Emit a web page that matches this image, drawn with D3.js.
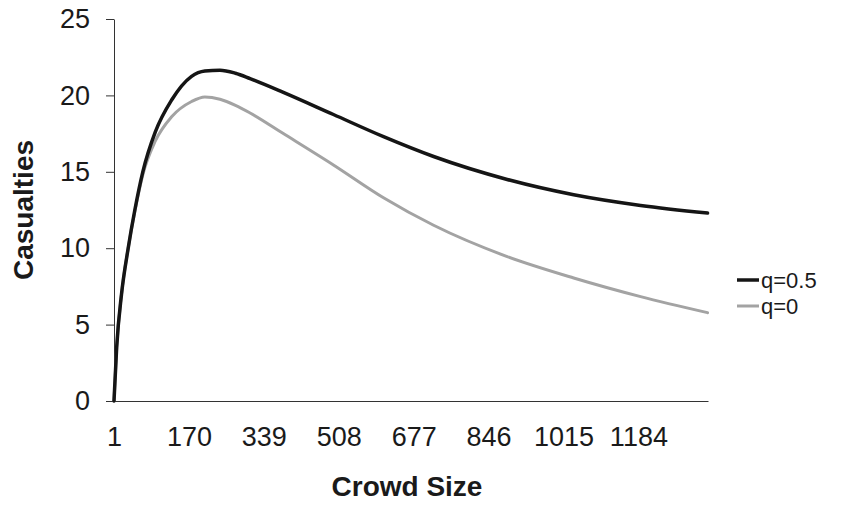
<!DOCTYPE html>
<html>
<head>
<meta charset="utf-8">
<script src="https://cdn.jsdelivr.net/npm/d3@7"></script>
<style>
  html, body { margin: 0; padding: 0; background: #fff; }
  svg { display: block; }
  text { font-family: Arial, "Liberation Sans", sans-serif; fill: #1a1a1a; }
</style>
</head>
<body>
<svg id="chart" width="867" height="508"></svg>
<script>
// ---- data ----
const crowdSize = [1, 7, 18, 33, 48, 66, 94, 131, 176, 206, 240, 275, 308, 383, 496, 609, 722, 888, 1038, 1189, 1340];
const casualtiesHalf = [0, 3.5, 7.0, 10.0, 12.5, 15.0, 17.6, 19.7, 21.25, 21.6, 21.65, 21.45, 21.1, 20.2, 18.75, 17.3, 16.0, 14.5, 13.5, 12.8, 12.3];
const casualtiesZero = [0, 3.5, 7.0, 10.0, 12.4, 14.8, 17.0, 18.6, 19.6, 19.9, 19.75, 19.35, 18.85, 17.5, 15.45, 13.3, 11.5, 9.45, 8.05, 6.83, 5.78];
const xTickLabels = [1, 170, 339, 508, 677, 846, 1015, 1184];
const yTickLabels = [0, 5, 10, 15, 20, 25];
const seriesNames = ["q=0.5", "q=0"];

// ---- layout ----
const svg = d3.select("#chart");
const plotLeft = 114, plotRight = 708, plotTop = 19, plotBottom = 401;

const x = d3.scaleLinear().domain([1, 1341]).range([plotLeft, plotRight]);
const y = d3.scaleLinear().domain([0, 25]).range([plotBottom, plotTop]);

// y axis
const yAxis = svg.append("g")
  .attr("transform", `translate(${plotLeft},0)`)
  .call(d3.axisLeft(y).tickValues(yTickLabels).tickSize(8).tickSizeOuter(0).tickPadding(16));
yAxis.select(".domain").attr("stroke", "#333").attr("stroke-width", 1);
yAxis.selectAll(".tick line").attr("stroke", "#333");
yAxis.selectAll("text").style("font-size", "27px").attr("fill", "#1a1a1a");

// x axis
const xAxis = svg.append("g")
  .attr("transform", `translate(0,${plotBottom})`)
  .call(d3.axisBottom(x).tickValues(xTickLabels).tickFormat(d3.format("d")).tickSize(0).tickSizeOuter(0).tickPadding(26));
xAxis.select(".domain").attr("stroke", "#333").attr("stroke-width", 1);
xAxis.selectAll("text").style("font-size", "27px").attr("fill", "#1a1a1a");

// axis titles
svg.append("text")
  .attr("x", 407).attr("y", 496)
  .attr("text-anchor", "middle")
  .style("font-size", "28px").style("font-weight", "bold")
  .text("Crowd Size");
svg.append("text")
  .attr("transform", "translate(33,210) rotate(-90)")
  .attr("text-anchor", "middle")
  .style("font-size", "28px").style("font-weight", "bold")
  .text("Casualties");

// lines
const line = d3.line()
  .x(d => x(d[0]))
  .y(d => y(d[1]))
  .curve(d3.curveMonotoneX);

const seriesData = [
  { name: seriesNames[0], values: crowdSize.map((c, i) => [c, casualtiesHalf[i]]), color: "#151515", width: 3.5 },
  { name: seriesNames[1], values: crowdSize.map((c, i) => [c, casualtiesZero[i]]), color: "#a3a3a3", width: 3 }
];

// draw gray first, black on top
[seriesData[1], seriesData[0]].forEach(s => {
  svg.append("path")
    .datum(s.values)
    .attr("fill", "none")
    .attr("stroke", s.color)
    .attr("stroke-width", s.width)
    .attr("stroke-linejoin", "round")
    .attr("stroke-linecap", "round")
    .attr("d", line);
});

// legend
const legend = svg.append("g");
seriesData.forEach((s, i) => {
  const ly = 280 + i * 26;
  legend.append("line")
    .attr("x1", 737).attr("x2", 759)
    .attr("y1", ly).attr("y2", ly)
    .attr("stroke", s.color).attr("stroke-width", s.width);
  legend.append("text")
    .attr("x", 761).attr("y", ly)
    .attr("dy", "0.35em")
    .style("font-size", "22px")
    .text(s.name);
});
</script>
</body>
</html>
